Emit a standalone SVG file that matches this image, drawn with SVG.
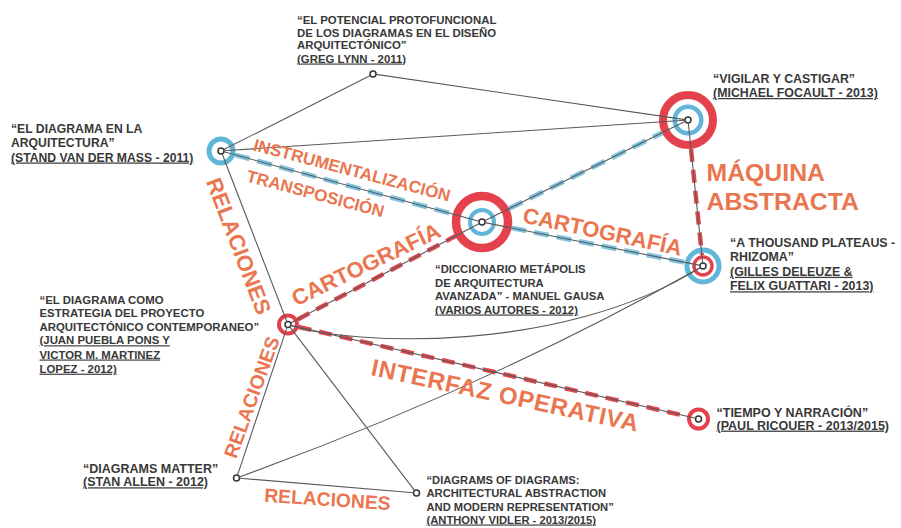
<svg xmlns="http://www.w3.org/2000/svg" width="901" height="528" viewBox="0 0 901 528">
<style>
  .lbl{font-family:"Liberation Sans",Arial,Helvetica,sans-serif;font-weight:bold;fill:#383838}
  .u{text-decoration:underline}
  .big{font-family:"Liberation Sans",Arial,Helvetica,sans-serif;font-weight:bold;fill:#ea7650}
  .red{fill:none;stroke:#e5414d}
  .blue{fill:none;stroke:#5fb6d8}
  .hub{fill:#fff;stroke:#333;stroke-width:1.5}
  .ln{fill:none;stroke:#5a5a5a;stroke-width:1.1}
  .dblue{fill:none;stroke:#80c4e0;stroke-width:5;stroke-dasharray:15 8}
  .dred{fill:none;stroke:#e3474f;stroke-width:4.5;stroke-dasharray:13 8}
</style>
<rect width="901" height="528" fill="#fff"/>

<g id="n-lynn">
  <circle class="hub" cx="373" cy="74" r="3"/>
  <text class="lbl" font-size="11.4"><tspan x="297" y="24">“EL POTENCIAL PROTOFUNCIONAL</tspan><tspan x="297" y="36.7">DE LOS DIAGRAMAS EN EL DISEÑO</tspan><tspan x="297" y="49">ARQUITECTÓNICO”</tspan><tspan class="u" x="297" y="62.5">(GREG LYNN - 2011)</tspan></text>
</g>

<g id="n-mass">
  <circle class="blue" cx="221" cy="151" r="12" stroke-width="5"/>
  <circle class="hub" cx="221" cy="151" r="3"/>
  <text class="lbl" font-size="12.2"><tspan x="11" y="133.3">“EL DIAGRAMA EN LA</tspan><tspan x="11" y="147.3">ARQUITECTURA”</tspan><tspan class="u" x="11" y="161.5">(STAND VAN DER MASS - 2011)</tspan></text>
</g>

<g id="n-focault">
  <circle class="red" cx="688" cy="120" r="25" stroke-width="8"/>
  <circle class="blue" cx="688" cy="120" r="13.3" stroke-width="4.5"/>
  <circle class="hub" cx="688" cy="120" r="3"/>
  <text class="lbl" font-size="12.4"><tspan x="713" y="83.3">“VIGILAR Y CASTIGAR”</tspan><tspan class="u" x="713" y="97">(MICHAEL FOCAULT - 2013)</tspan></text>
</g>

<g id="n-gausa">
  <circle class="red" cx="482" cy="222" r="26" stroke-width="8.5"/>
  <circle class="blue" cx="482" cy="222" r="12" stroke-width="4"/>
  <circle class="hub" cx="482" cy="222" r="3"/>
  <text class="lbl" font-size="11.3"><tspan x="435" y="273.3">“DICCIONARIO METÁPOLIS</tspan><tspan x="435" y="286.7">DE ARQUITECTURA</tspan><tspan x="435" y="300">AVANZADA” - MANUEL GAUSA</tspan><tspan class="u" x="435" y="313.5">(VARIOS AUTORES - 2012)</tspan></text>
</g>

<g id="n-deleuze">
  <circle class="blue" cx="703" cy="266" r="16" stroke-width="5"/>
  <circle class="red" cx="703" cy="266" r="9" stroke-width="3.5"/>
  <circle class="hub" cx="703" cy="266" r="3"/>
  <text class="lbl" font-size="12.4"><tspan x="730" y="246.7">“A THOUSAND PLATEAUS -</tspan><tspan x="730" y="261.3">RHIZOMA”</tspan><tspan class="u" x="730" y="275.8">(GILLES DELEUZE &amp;</tspan><tspan class="u" x="730" y="290.3">FELIX GUATTARI - 2013)</tspan></text>
</g>

<g id="n-puebla">
  <circle class="red" cx="288" cy="324.5" r="9" stroke-width="4"/>
  <circle class="hub" cx="288" cy="324.5" r="3"/>
  <text class="lbl" font-size="11.4"><tspan x="39.5" y="304">“EL DIAGRAMA COMO</tspan><tspan x="39.5" y="317.3">ESTRATEGIA DEL PROYECTO</tspan><tspan x="39.5" y="330.7">ARQUITECTÓNICO CONTEMPORANEO”</tspan><tspan class="u" x="39.5" y="344.3">(JUAN PUEBLA PONS Y</tspan><tspan class="u" x="39.5" y="358.5">VICTOR M. MARTINEZ</tspan><tspan class="u" x="39.5" y="372.7">LOPEZ - 2012)</tspan></text>
</g>

<g id="n-ricouer">
  <circle class="red" cx="698.5" cy="419" r="9.5" stroke-width="4"/>
  <circle class="hub" cx="698.5" cy="419" r="3"/>
  <text class="lbl" font-size="12.5"><tspan x="716.5" y="416.7">“TIEMPO Y NARRACIÓN”</tspan><tspan class="u" x="716.5" y="429.6">(PAUL RICOUER - 2013/2015)</tspan></text>
</g>

<g id="n-allen">
  <circle class="hub" cx="236.5" cy="478" r="3"/>
  <text class="lbl" font-size="12.5"><tspan x="83" y="472.7">“DIAGRAMS MATTER”</tspan><tspan class="u" x="83" y="486.3">(STAN ALLEN - 2012)</tspan></text>
</g>

<g id="n-vidler">
  <circle class="hub" cx="416.5" cy="493" r="3"/>
  <text class="lbl" font-size="11.2"><tspan x="426.5" y="484.3">“DIAGRAMS OF DIAGRAMS:</tspan><tspan x="426.5" y="497.3">ARCHITECTURAL ABSTRACTION</tspan><tspan x="426.5" y="510.7">AND MODERN REPRESENTATION”</tspan><tspan class="u" x="426.5" y="523.5">(ANTHONY VIDLER - 2013/2015)</tspan></text>
</g>

<g id="connectors">
  <g id="dashes">
    <path class="dblue" d="M235,154.8 L453,214.1"/>
    <path class="dblue" d="M508.9,208.7 L662,132.9"/>
    <path class="dblue" d="M511.4,227.9 L684.9,262.4"/>
    <path class="dred" d="M297.7,319.4 L455.5,236"/>
    <path class="dred" d="M298.7,327 L687.3,416.4"/>
    <path class="dred" d="M691,148.9 L701.9,255.1"/>
  </g>
  <g id="lines">
    <path class="ln" d="M223.7,149.6 L370.3,75.4"/>
    <path class="ln" d="M376,74.4 L685,119.6"/>
    <path class="ln" d="M224,150.8 L685,120.2"/>
    <path class="ln" d="M223.9,151.8 L479.1,221.2"/>
    <path class="ln" d="M484.7,220.7 L685.3,121.3"/>
    <path class="ln" d="M484.9,222.6 L700.1,265.4"/>
    <path class="ln" d="M688.3,123 L702.7,263"/>
    <path class="ln" d="M290.7,323.1 L479.3,223.4"/>
    <path class="ln" d="M290.9,325.2 L695.6,418.3"/>
    <path class="ln" d="M222.1,153.8 L286.9,321.7"/>
    <path class="ln" d="M287,327.3 L237.5,475.2"/>
    <path class="ln" d="M289.8,326.9 L414.7,490.6"/>
    <path class="ln" d="M239.5,478.2 L413.5,492.8"/>
    <path class="ln" d="M290.8,325.4 C352,345 560,355 700.5,267.6"/>
    <path class="ln" d="M239.3,477 Q490,386 700.4,267.5"/>
  </g>
</g>

<g id="edge-labels">
  <text class="big" font-size="17" text-anchor="middle" transform="translate(350.5,175.9) rotate(14.7)">INSTRUMENTALIZACIÓN</text>
  <text class="big" font-size="17" text-anchor="middle" transform="translate(314,199.4) rotate(14.8)">TRANSPOSICIÓN</text>
  <text class="big" font-size="22" text-anchor="middle" transform="translate(231.6,248.8) rotate(69)">RELACIONES</text>
  <text class="big" font-size="19.5" text-anchor="middle" transform="translate(258,399.5) rotate(-70)">RELACIONES</text>
  <text class="big" font-size="19.3" text-anchor="middle" transform="translate(327,506) rotate(3.8)">RELACIONES</text>
  <text class="big" font-size="22" text-anchor="middle" transform="translate(369.2,271.3) rotate(-25.7)">CARTOGRAFÍA</text>
  <text class="big" font-size="22" text-anchor="middle" transform="translate(601,239) rotate(11.9)">CARTOGRAFÍA</text>
  <text class="big" font-size="24.8"><tspan x="706.5" y="180.7">MÁQUINA</tspan><tspan x="706.5" y="210">ABSTRACTA</tspan></text>
  <text class="big" font-size="24" letter-spacing="0.7" transform="translate(370,375) rotate(12)">INTERFAZ OPERATIVA</text>
</g>
</svg>
